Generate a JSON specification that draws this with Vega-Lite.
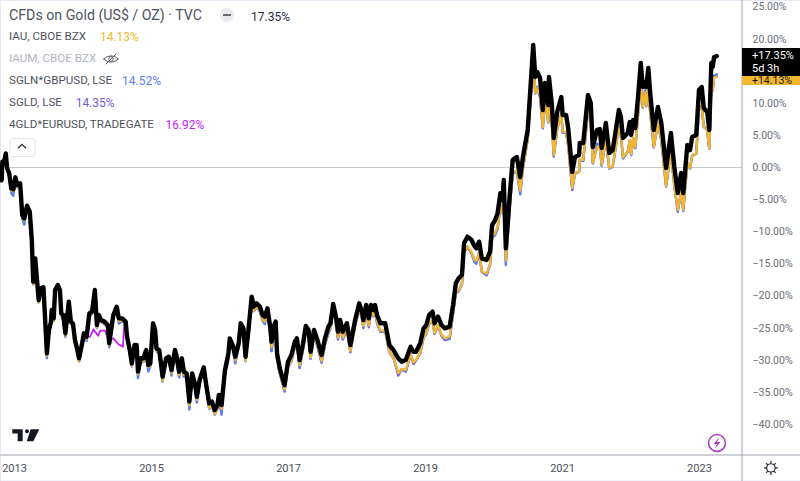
{
"$schema":"https://vega.github.io/schema/vega-lite/v6.json",
"width":742,"height":455,
"padding":{"left":0,"top":0,"right":58,"bottom":26},
"autosize":{"type":"none"},
"background":"#ffffff",
"config":{"view":{"stroke":null}},
"datasets":{
"prices":[
{"year":2012.82,"cfd":-1.95,"iau":-2.2,"sgln":-2.25,"sgld":-2.2},
{"year":2012.83,"cfd":0.91,"iau":0.7,"sgln":0.65,"sgld":0.7},
{"year":2012.85,"cfd":0.65,"iau":0.4,"sgln":0.35,"sgld":0.4},
{"year":2012.88,"cfd":2.2,"iau":2.0,"sgln":1.9,"sgld":2.0},
{"year":2012.90,"cfd":-0.13,"iau":-0.4,"sgln":-0.45,"sgld":-0.4},
{"year":2012.93,"cfd":-0.91,"iau":-1.2,"sgln":-1.3,"sgld":-1.2},
{"year":2012.96,"cfd":-3.25,"iau":-3.6,"sgln":-4.0,"sgld":-3.7},
{"year":2012.99,"cfd":-3.4,"iau":-3.7,"sgln":-4.4,"sgld":-3.8},
{"year":2013.02,"cfd":-1.53,"iau":-1.8,"sgln":-1.9,"sgld":-1.8},
{"year":2013.05,"cfd":-2.73,"iau":-3.0,"sgln":-3.1,"sgld":-3.0},
{"year":2013.09,"cfd":-2.47,"iau":-2.75,"sgln":-2.85,"sgld":-2.8},
{"year":2013.12,"cfd":-7.4,"iau":-7.7,"sgln":-8.0,"sgld":-7.8},
{"year":2013.15,"cfd":-7.92,"iau":-8.3,"sgln":-8.9,"sgld":-8.4},
{"year":2013.19,"cfd":-5.95,"iau":-6.2,"sgln":-6.3,"sgld":-6.2},
{"year":2013.23,"cfd":-6.88,"iau":-7.15,"sgln":-7.25,"sgld":-7.2},
{"year":2013.26,"cfd":-11.3,"iau":-11.6,"sgln":-11.7,"sgld":-11.6},
{"year":2013.28,"cfd":-17.8,"iau":-18.2,"sgln":-18.2,"sgld":-18.2},
{"year":2013.31,"cfd":-14.15,"iau":-14.4,"sgln":-14.5,"sgld":-14.4},
{"year":2013.34,"cfd":-18.04,"iau":-18.3,"sgln":-18.4,"sgld":-18.3},
{"year":2013.36,"cfd":-20.64,"iau":-21.0,"sgln":-21.0,"sgld":-21.0},
{"year":2013.39,"cfd":-18.82,"iau":-19.1,"sgln":-19.2,"sgld":-19.1},
{"year":2013.43,"cfd":-18.67,"iau":-18.9,"sgln":-19.0,"sgld":-18.9},
{"year":2013.45,"cfd":-22.72,"iau":-23.0,"sgln":-23.1,"sgld":-23.0},
{"year":2013.48,"cfd":-28.95,"iau":-29.3,"sgln":-29.7,"sgld":-29.4},
{"year":2013.51,"cfd":-25.31,"iau":-25.6,"sgln":-25.7,"sgld":-25.6},
{"year":2013.54,"cfd":-24.01,"iau":-24.3,"sgln":-24.4,"sgld":-24.3},
{"year":2013.55,"cfd":-22.2,"iau":-22.5,"sgln":-22.6,"sgld":-22.5},
{"year":2013.58,"cfd":-23.5,"iau":-23.9,"sgln":-23.9,"sgld":-23.9},
{"year":2013.60,"cfd":-19.08,"iau":-19.3,"sgln":-19.4,"sgld":-19.3},
{"year":2013.64,"cfd":-18.3,"iau":-18.5,"sgln":-18.6,"sgld":-18.3},
{"year":2013.67,"cfd":-19.08,"iau":-19.3,"sgln":-19.4,"sgld":-19.3},
{"year":2013.69,"cfd":-22.72,"iau":-23.0,"sgln":-23.1,"sgld":-23.0},
{"year":2013.72,"cfd":-22.98,"iau":-23.3,"sgln":-23.9,"sgld":-23.4},
{"year":2013.75,"cfd":-25.83,"iau":-26.2,"sgln":-26.4,"sgld":-26.2},
{"year":2013.80,"cfd":-20.9,"iau":-21.2,"sgln":-21.3,"sgld":-21.2},
{"year":2013.83,"cfd":-24.0,"iau":-24.3,"sgln":-24.4,"sgld":-24.3},
{"year":2013.86,"cfd":-24.27,"iau":-24.5,"sgln":-24.6,"sgld":-24.5},
{"year":2013.89,"cfd":-26.87,"iau":-27.2,"sgln":-27.2,"sgld":-27.2},
{"year":2013.92,"cfd":-28.17,"iau":-28.5,"sgln":-28.5,"sgld":-28.5},
{"year":2013.95,"cfd":-29.73,"iau":-30.2,"sgln":-30.2,"sgld":-30.2},
{"year":2013.99,"cfd":-27.65,"iau":-27.9,"sgln":-28.0,"sgld":-27.9},
{"year":2014.02,"cfd":-25.83,"iau":-26.1,"sgln":-26.2,"sgld":-26.1},
{"year":2014.06,"cfd":-26.35,"iau":-26.7,"sgln":-27.0,"sgld":-26.8},
{"year":2014.10,"cfd":-22.72,"iau":-23.0,"sgln":-23.1,"sgld":-23.0},
{"year":2014.14,"cfd":-22.46,"iau":-22.7,"sgln":-22.8,"sgld":-22.7},
{"year":2014.18,"cfd":-19.08,"iau":-19.3,"sgln":-19.4,"sgld":-19.3},
{"year":2014.21,"cfd":-24.53,"iau":-24.9,"sgln":-25.0,"sgld":-24.9},
{"year":2014.24,"cfd":-22.98,"iau":-23.3,"sgln":-23.4,"sgld":-23.3},
{"year":2014.27,"cfd":-23.75,"iau":-24.0,"sgln":-24.1,"sgld":-24.0},
{"year":2014.32,"cfd":-24.0,"iau":-24.3,"sgln":-24.4,"sgld":-24.3},
{"year":2014.37,"cfd":-24.53,"iau":-24.9,"sgln":-25.0,"sgld":-24.9},
{"year":2014.39,"cfd":-27.39,"iau":-27.7,"sgln":-28.0,"sgld":-27.8},
{"year":2014.45,"cfd":-22.98,"iau":-23.3,"sgln":-23.4,"sgld":-23.3},
{"year":2014.50,"cfd":-21.68,"iau":-21.9,"sgln":-22.0,"sgld":-21.9},
{"year":2014.53,"cfd":-23.5,"iau":-23.9,"sgln":-24.3,"sgld":-23.9},
{"year":2014.58,"cfd":-23.5,"iau":-23.8,"sgln":-23.9,"sgld":-23.8},
{"year":2014.63,"cfd":-24.0,"iau":-24.4,"sgln":-24.5,"sgld":-24.4},
{"year":2014.65,"cfd":-26.35,"iau":-26.7,"sgln":-26.8,"sgld":-26.7},
{"year":2014.69,"cfd":-28.43,"iau":-28.8,"sgln":-28.9,"sgld":-28.8},
{"year":2014.72,"cfd":-30.5,"iau":-30.9,"sgln":-31.0,"sgld":-30.9},
{"year":2014.76,"cfd":-27.65,"iau":-28.0,"sgln":-28.1,"sgld":-28.0},
{"year":2014.79,"cfd":-27.65,"iau":-28.0,"sgln":-28.1,"sgld":-28.0},
{"year":2014.81,"cfd":-31.8,"iau":-32.2,"sgln":-32.8,"sgld":-32.3},
{"year":2014.85,"cfd":-29.72,"iau":-30.1,"sgln":-30.2,"sgld":-30.1},
{"year":2014.89,"cfd":-29.72,"iau":-30.2,"sgln":-30.3,"sgld":-30.2},
{"year":2014.93,"cfd":-28.43,"iau":-28.7,"sgln":-28.8,"sgld":-28.7},
{"year":2014.96,"cfd":-30.76,"iau":-31.1,"sgln":-31.8,"sgld":-31.3},
{"year":2014.99,"cfd":-30.5,"iau":-30.9,"sgln":-31.0,"sgld":-30.9},
{"year":2015.03,"cfd":-24.27,"iau":-24.6,"sgln":-24.7,"sgld":-24.6},
{"year":2015.06,"cfd":-25.31,"iau":-25.6,"sgln":-25.7,"sgld":-25.6},
{"year":2015.08,"cfd":-28.17,"iau":-28.5,"sgln":-28.6,"sgld":-28.5},
{"year":2015.12,"cfd":-28.43,"iau":-28.9,"sgln":-29.0,"sgld":-28.9},
{"year":2015.17,"cfd":-32.58,"iau":-33.2,"sgln":-33.3,"sgld":-33.3},
{"year":2015.22,"cfd":-29.72,"iau":-30.1,"sgln":-30.2,"sgld":-30.1},
{"year":2015.26,"cfd":-29.47,"iau":-29.9,"sgln":-30.0,"sgld":-29.9},
{"year":2015.30,"cfd":-31.54,"iau":-32.0,"sgln":-32.4,"sgld":-32.1},
{"year":2015.35,"cfd":-28.43,"iau":-28.8,"sgln":-28.9,"sgld":-28.8},
{"year":2015.37,"cfd":-29.2,"iau":-29.6,"sgln":-29.7,"sgld":-29.6},
{"year":2015.41,"cfd":-31.8,"iau":-32.3,"sgln":-32.7,"sgld":-32.5},
{"year":2015.45,"cfd":-29.72,"iau":-30.1,"sgln":-30.2,"sgld":-30.1},
{"year":2015.48,"cfd":-31.8,"iau":-32.3,"sgln":-32.5,"sgld":-32.6},
{"year":2015.52,"cfd":-32.06,"iau":-32.5,"sgln":-32.6,"sgld":-32.5},
{"year":2015.56,"cfd":-36.47,"iau":-37.0,"sgln":-37.7,"sgld":-37.1},
{"year":2015.60,"cfd":-32.06,"iau":-32.5,"sgln":-32.6,"sgld":-32.5},
{"year":2015.64,"cfd":-33.62,"iau":-34.0,"sgln":-34.1,"sgld":-34.0},
{"year":2015.67,"cfd":-35.7,"iau":-36.2,"sgln":-36.6,"sgld":-36.3},
{"year":2015.71,"cfd":-33.1,"iau":-33.5,"sgln":-33.6,"sgld":-33.5},
{"year":2015.77,"cfd":-31.13,"iau":-31.6,"sgln":-31.6,"sgld":-31.6},
{"year":2015.81,"cfd":-34.14,"iau":-34.6,"sgln":-34.7,"sgld":-34.6},
{"year":2015.85,"cfd":-36.73,"iau":-37.5,"sgln":-37.6,"sgld":-37.5},
{"year":2015.89,"cfd":-36.47,"iau":-37.0,"sgln":-37.1,"sgld":-37.0},
{"year":2015.93,"cfd":-37.77,"iau":-38.4,"sgln":-38.5,"sgld":-38.4},
{"year":2015.97,"cfd":-36.99,"iau":-37.5,"sgln":-37.6,"sgld":-37.5},
{"year":2015.99,"cfd":-35.44,"iau":-35.9,"sgln":-36.0,"sgld":-35.9},
{"year":2016.03,"cfd":-36.99,"iau":-37.6,"sgln":-38.5,"sgld":-37.7},
{"year":2016.08,"cfd":-31.54,"iau":-32.1,"sgln":-32.2,"sgld":-32.1},
{"year":2016.13,"cfd":-28.95,"iau":-29.5,"sgln":-30.0,"sgld":-29.6},
{"year":2016.15,"cfd":-26.61,"iau":-27.1,"sgln":-27.2,"sgld":-27.1},
{"year":2016.20,"cfd":-27.91,"iau":-28.4,"sgln":-28.5,"sgld":-28.4},
{"year":2016.23,"cfd":-29.47,"iau":-30.0,"sgln":-30.5,"sgld":-30.4},
{"year":2016.28,"cfd":-27.39,"iau":-27.9,"sgln":-28.0,"sgld":-27.9},
{"year":2016.31,"cfd":-24.27,"iau":-24.8,"sgln":-24.9,"sgld":-24.8},
{"year":2016.35,"cfd":-25.05,"iau":-25.5,"sgln":-25.6,"sgld":-25.5},
{"year":2016.38,"cfd":-29.47,"iau":-30.1,"sgln":-30.2,"sgld":-30.1},
{"year":2016.42,"cfd":-25.57,"iau":-26.1,"sgln":-26.2,"sgld":-26.1},
{"year":2016.47,"cfd":-20.12,"iau":-20.6,"sgln":-20.7,"sgld":-20.6},
{"year":2016.50,"cfd":-21.68,"iau":-22.3,"sgln":-22.4,"sgld":-22.3},
{"year":2016.54,"cfd":-21.16,"iau":-21.7,"sgln":-21.8,"sgld":-21.7},
{"year":2016.59,"cfd":-21.68,"iau":-22.4,"sgln":-22.5,"sgld":-22.4},
{"year":2016.63,"cfd":-22.98,"iau":-23.7,"sgln":-23.9,"sgld":-23.8},
{"year":2016.66,"cfd":-23.23,"iau":-24.0,"sgln":-24.4,"sgld":-24.1},
{"year":2016.70,"cfd":-21.94,"iau":-22.7,"sgln":-22.8,"sgld":-22.7},
{"year":2016.74,"cfd":-24.79,"iau":-25.5,"sgln":-25.6,"sgld":-25.5},
{"year":2016.76,"cfd":-27.13,"iau":-28.0,"sgln":-28.6,"sgld":-28.6},
{"year":2016.79,"cfd":-24.79,"iau":-25.5,"sgln":-25.6,"sgld":-25.5},
{"year":2016.82,"cfd":-24.01,"iau":-24.7,"sgln":-24.8,"sgld":-24.7},
{"year":2016.84,"cfd":-28.95,"iau":-29.7,"sgln":-29.8,"sgld":-29.7},
{"year":2016.88,"cfd":-31.28,"iau":-32.0,"sgln":-32.1,"sgld":-32.0},
{"year":2016.95,"cfd":-33.88,"iau":-34.6,"sgln":-34.8,"sgld":-34.9},
{"year":2017.00,"cfd":-30.24,"iau":-31.0,"sgln":-31.1,"sgld":-31.0},
{"year":2017.05,"cfd":-29.2,"iau":-30.0,"sgln":-30.2,"sgld":-30.1},
{"year":2017.10,"cfd":-27.13,"iau":-27.9,"sgln":-28.0,"sgld":-27.9},
{"year":2017.13,"cfd":-26.61,"iau":-27.3,"sgln":-27.4,"sgld":-27.3},
{"year":2017.17,"cfd":-29.98,"iau":-30.8,"sgln":-31.2,"sgld":-31.2},
{"year":2017.22,"cfd":-27.39,"iau":-28.2,"sgln":-28.3,"sgld":-28.2},
{"year":2017.26,"cfd":-24.69,"iau":-25.4,"sgln":-25.5,"sgld":-25.4},
{"year":2017.30,"cfd":-25.31,"iau":-26.1,"sgln":-26.2,"sgld":-26.1},
{"year":2017.33,"cfd":-28.69,"iau":-29.6,"sgln":-29.7,"sgld":-29.8},
{"year":2017.38,"cfd":-25.31,"iau":-26.1,"sgln":-26.2,"sgld":-26.1},
{"year":2017.43,"cfd":-26.87,"iau":-27.7,"sgln":-27.9,"sgld":-27.8},
{"year":2017.49,"cfd":-29.2,"iau":-30.1,"sgln":-30.3,"sgld":-30.4},
{"year":2017.54,"cfd":-26.61,"iau":-27.4,"sgln":-27.6,"sgld":-27.5},
{"year":2017.59,"cfd":-24.79,"iau":-25.5,"sgln":-25.9,"sgld":-25.6},
{"year":2017.62,"cfd":-24.27,"iau":-25.0,"sgln":-25.1,"sgld":-25.0},
{"year":2017.66,"cfd":-21.26,"iau":-22.0,"sgln":-22.1,"sgld":-22.0},
{"year":2017.70,"cfd":-23.23,"iau":-24.1,"sgln":-24.2,"sgld":-24.1},
{"year":2017.73,"cfd":-25.57,"iau":-26.5,"sgln":-26.6,"sgld":-26.8},
{"year":2017.76,"cfd":-23.75,"iau":-24.6,"sgln":-24.7,"sgld":-24.6},
{"year":2017.80,"cfd":-25.57,"iau":-26.5,"sgln":-26.7,"sgld":-26.8},
{"year":2017.86,"cfd":-24.27,"iau":-25.1,"sgln":-25.2,"sgld":-25.1},
{"year":2017.91,"cfd":-27.65,"iau":-28.6,"sgln":-28.7,"sgld":-28.8},
{"year":2017.98,"cfd":-23.75,"iau":-24.6,"sgln":-24.7,"sgld":-24.6},
{"year":2018.04,"cfd":-21.16,"iau":-22.0,"sgln":-22.1,"sgld":-22.0},
{"year":2018.08,"cfd":-22.45,"iau":-23.4,"sgln":-23.5,"sgld":-23.5},
{"year":2018.10,"cfd":-23.75,"iau":-24.7,"sgln":-24.8,"sgld":-25.0},
{"year":2018.14,"cfd":-21.42,"iau":-22.4,"sgln":-22.5,"sgld":-22.4},
{"year":2018.18,"cfd":-23.49,"iau":-24.6,"sgln":-24.7,"sgld":-24.9},
{"year":2018.21,"cfd":-21.42,"iau":-22.3,"sgln":-22.4,"sgld":-22.3},
{"year":2018.25,"cfd":-22.2,"iau":-23.1,"sgln":-23.2,"sgld":-23.1},
{"year":2018.27,"cfd":-21.42,"iau":-22.3,"sgln":-22.4,"sgld":-22.3},
{"year":2018.30,"cfd":-22.98,"iau":-24.0,"sgln":-24.3,"sgld":-24.1},
{"year":2018.35,"cfd":-24.27,"iau":-25.4,"sgln":-25.6,"sgld":-25.6},
{"year":2018.42,"cfd":-24.27,"iau":-25.4,"sgln":-25.5,"sgld":-25.4},
{"year":2018.48,"cfd":-27.65,"iau":-28.7,"sgln":-28.8,"sgld":-28.7},
{"year":2018.54,"cfd":-28.43,"iau":-29.6,"sgln":-29.7,"sgld":-29.6},
{"year":2018.61,"cfd":-29.72,"iau":-32.0,"sgln":-32.1,"sgld":-32.4},
{"year":2018.66,"cfd":-30.24,"iau":-31.4,"sgln":-31.5,"sgld":-31.4},
{"year":2018.72,"cfd":-29.98,"iau":-31.5,"sgln":-31.8,"sgld":-31.7},
{"year":2018.79,"cfd":-27.91,"iau":-29.1,"sgln":-29.2,"sgld":-29.1},
{"year":2018.83,"cfd":-28.69,"iau":-30.3,"sgln":-30.4,"sgld":-30.6},
{"year":2018.87,"cfd":-28.69,"iau":-30.0,"sgln":-30.1,"sgld":-30.0},
{"year":2018.93,"cfd":-27.39,"iau":-28.8,"sgln":-29.0,"sgld":-28.9},
{"year":2018.98,"cfd":-25.05,"iau":-26.4,"sgln":-26.5,"sgld":-26.4},
{"year":2019.02,"cfd":-24.53,"iau":-25.8,"sgln":-25.9,"sgld":-25.8},
{"year":2019.06,"cfd":-22.98,"iau":-24.3,"sgln":-24.4,"sgld":-24.3},
{"year":2019.11,"cfd":-22.46,"iau":-23.9,"sgln":-24.0,"sgld":-23.9},
{"year":2019.14,"cfd":-24.27,"iau":-25.8,"sgln":-25.9,"sgld":-25.9},
{"year":2019.19,"cfd":-23.23,"iau":-24.6,"sgln":-24.7,"sgld":-24.6},
{"year":2019.24,"cfd":-24.53,"iau":-26.0,"sgln":-26.1,"sgld":-26.2},
{"year":2019.29,"cfd":-25.05,"iau":-26.6,"sgln":-26.8,"sgld":-26.9},
{"year":2019.36,"cfd":-24.79,"iau":-26.3,"sgln":-26.6,"sgld":-26.7},
{"year":2019.41,"cfd":-21.42,"iau":-22.7,"sgln":-22.8,"sgld":-22.7},
{"year":2019.45,"cfd":-18.04,"iau":-19.5,"sgln":-19.6,"sgld":-19.5},
{"year":2019.49,"cfd":-17.26,"iau":-19.1,"sgln":-19.3,"sgld":-19.2},
{"year":2019.54,"cfd":-16.74,"iau":-18.1,"sgln":-18.2,"sgld":-18.1},
{"year":2019.57,"cfd":-11.81,"iau":-13.2,"sgln":-13.3,"sgld":-13.2},
{"year":2019.62,"cfd":-10.77,"iau":-12.3,"sgln":-12.4,"sgld":-12.3},
{"year":2019.68,"cfd":-11.29,"iau":-13.2,"sgln":-13.4,"sgld":-13.3},
{"year":2019.72,"cfd":-12.2,"iau":-14.4,"sgln":-14.7,"sgld":-14.5},
{"year":2019.75,"cfd":-12.59,"iau":-14.5,"sgln":-15.0,"sgld":-14.6},
{"year":2019.79,"cfd":-11.55,"iau":-13.3,"sgln":-13.4,"sgld":-13.3},
{"year":2019.83,"cfd":-14.15,"iau":-16.2,"sgln":-16.3,"sgld":-16.2},
{"year":2019.90,"cfd":-14.41,"iau":-16.5,"sgln":-16.7,"sgld":-16.8},
{"year":2019.95,"cfd":-13.11,"iau":-15.1,"sgln":-15.2,"sgld":-15.1},
{"year":2019.98,"cfd":-8.96,"iau":-10.7,"sgln":-10.9,"sgld":-10.8},
{"year":2020.02,"cfd":-8.3,"iau":-10.3,"sgln":-10.6,"sgld":-10.4},
{"year":2020.06,"cfd":-7.14,"iau":-9.2,"sgln":-9.6,"sgld":-9.4},
{"year":2020.10,"cfd":-4.02,"iau":-6.2,"sgln":-6.3,"sgld":-6.2},
{"year":2020.13,"cfd":-5.06,"iau":-7.0,"sgln":-7.1,"sgld":-7.0},
{"year":2020.15,"cfd":-1.95,"iau":-3.9,"sgln":-4.0,"sgld":-3.9},
{"year":2020.18,"cfd":-12.59,"iau":-14.5,"sgln":-15.2,"sgld":-14.6},
{"year":2020.24,"cfd":-3.97,"iau":-5.8,"sgln":-5.9,"sgld":-5.8},
{"year":2020.28,"cfd":1.17,"iau":-0.7,"sgln":-1.0,"sgld":-0.9},
{"year":2020.34,"cfd":1.64,"iau":-0.5,"sgln":-0.6,"sgld":-0.5},
{"year":2020.39,"cfd":-1.48,"iau":-3.6,"sgln":-4.2,"sgld":-3.7},
{"year":2020.43,"cfd":1.64,"iau":0.0,"sgln":-0.1,"sgld":0.0},
{"year":2020.46,"cfd":3.5,"iau":1.9,"sgln":1.8,"sgld":1.9},
{"year":2020.50,"cfd":5.84,"iau":4.5,"sgln":4.4,"sgld":4.5},
{"year":2020.55,"cfd":14.1,"iau":12.1,"sgln":12.0,"sgld":12.1},
{"year":2020.58,"cfd":19.08,"iau":16.7,"sgln":16.6,"sgld":16.7},
{"year":2020.61,"cfd":14.1,"iau":11.6,"sgln":11.5,"sgld":11.6},
{"year":2020.64,"cfd":14.88,"iau":12.4,"sgln":12.6,"sgld":12.4},
{"year":2020.68,"cfd":13.94,"iau":11.3,"sgln":11.1,"sgld":10.9},
{"year":2020.72,"cfd":8.96,"iau":6.3,"sgln":6.1,"sgld":6.2},
{"year":2020.75,"cfd":13.16,"iau":10.5,"sgln":10.4,"sgld":10.5},
{"year":2020.80,"cfd":9.74,"iau":7.1,"sgln":7.0,"sgld":7.1},
{"year":2020.81,"cfd":14.1,"iau":11.4,"sgln":11.3,"sgld":11.4},
{"year":2020.85,"cfd":10.05,"iau":7.4,"sgln":7.2,"sgld":7.3},
{"year":2020.88,"cfd":4.6,"iau":1.95,"sgln":1.7,"sgld":1.8},
{"year":2020.93,"cfd":8.64,"iau":6.0,"sgln":6.2,"sgld":6.0},
{"year":2020.99,"cfd":10.98,"iau":8.4,"sgln":8.3,"sgld":8.4},
{"year":2021.01,"cfd":8.18,"iau":5.6,"sgln":5.4,"sgld":5.5},
{"year":2021.06,"cfd":8.18,"iau":5.5,"sgln":5.4,"sgld":5.5},
{"year":2021.09,"cfd":6.15,"iau":3.6,"sgln":3.5,"sgld":3.5},
{"year":2021.15,"cfd":-0.7,"iau":-3.2,"sgln":-3.3,"sgld":-3.5},
{"year":2021.19,"cfd":1.64,"iau":-0.9,"sgln":-1.0,"sgld":-0.9},
{"year":2021.25,"cfd":1.95,"iau":-0.6,"sgln":-0.7,"sgld":-0.6},
{"year":2021.26,"cfd":3.82,"iau":1.2,"sgln":1.1,"sgld":1.2},
{"year":2021.31,"cfd":3.82,"iau":1.2,"sgln":1.0,"sgld":1.1},
{"year":2021.38,"cfd":11.29,"iau":9.1,"sgln":9.0,"sgld":9.1},
{"year":2021.42,"cfd":10.05,"iau":7.6,"sgln":7.5,"sgld":7.6},
{"year":2021.45,"cfd":3.19,"iau":0.7,"sgln":0.6,"sgld":0.7},
{"year":2021.51,"cfd":5.84,"iau":3.1,"sgln":3.7,"sgld":3.2},
{"year":2021.55,"cfd":6.0,"iau":3.4,"sgln":3.6,"sgld":3.4},
{"year":2021.58,"cfd":3.04,"iau":0.4,"sgln":0.3,"sgld":0.3},
{"year":2021.64,"cfd":6.93,"iau":4.4,"sgln":4.3,"sgld":4.4},
{"year":2021.69,"cfd":2.26,"iau":-0.1,"sgln":-0.2,"sgld":-0.1},
{"year":2021.74,"cfd":2.73,"iau":0.2,"sgln":0.1,"sgld":0.2},
{"year":2021.77,"cfd":4.75,"iau":2.2,"sgln":2.1,"sgld":2.2},
{"year":2021.83,"cfd":8.96,"iau":6.4,"sgln":6.3,"sgld":6.4},
{"year":2021.86,"cfd":7.87,"iau":5.2,"sgln":5.1,"sgld":5.2},
{"year":2021.89,"cfd":4.6,"iau":1.6,"sgln":1.4,"sgld":1.5},
{"year":2021.96,"cfd":5.37,"iau":2.5,"sgln":2.4,"sgld":2.5},
{"year":2021.99,"cfd":7.09,"iau":4.3,"sgln":4.2,"sgld":4.3},
{"year":2022.01,"cfd":5.06,"iau":2.1,"sgln":1.9,"sgld":2.0},
{"year":2022.04,"cfd":7.4,"iau":4.6,"sgln":4.5,"sgld":4.6},
{"year":2022.07,"cfd":6.15,"iau":3.2,"sgln":3.0,"sgld":3.1},
{"year":2022.11,"cfd":10.98,"iau":8.2,"sgln":8.3,"sgld":8.2},
{"year":2022.15,"cfd":16.28,"iau":13.2,"sgln":13.1,"sgld":13.2},
{"year":2022.18,"cfd":12.54,"iau":9.4,"sgln":9.3,"sgld":9.4},
{"year":2022.21,"cfd":13.16,"iau":11.7,"sgln":12.0,"sgld":11.7},
{"year":2022.23,"cfd":12.5,"iau":9.6,"sgln":9.5,"sgld":9.6},
{"year":2022.26,"cfd":15.5,"iau":12.4,"sgln":12.3,"sgld":12.4},
{"year":2022.29,"cfd":11.29,"iau":8.4,"sgln":8.3,"sgld":8.4},
{"year":2022.34,"cfd":5.84,"iau":3.2,"sgln":3.1,"sgld":3.2},
{"year":2022.40,"cfd":9.42,"iau":6.9,"sgln":6.8,"sgld":6.9},
{"year":2022.45,"cfd":6.93,"iau":4.3,"sgln":4.2,"sgld":4.3},
{"year":2022.52,"cfd":-0.08,"iau":-2.9,"sgln":-3.0,"sgld":-2.9},
{"year":2022.59,"cfd":5.37,"iau":2.6,"sgln":2.5,"sgld":2.6},
{"year":2022.64,"cfd":0.08,"iau":-2.8,"sgln":-2.9,"sgld":-2.8},
{"year":2022.69,"cfd":-3.97,"iau":-6.6,"sgln":-6.9,"sgld":-6.7},
{"year":2022.74,"cfd":-0.86,"iau":-3.8,"sgln":-3.7,"sgld":-3.8},
{"year":2022.77,"cfd":-3.97,"iau":-6.6,"sgln":-6.8,"sgld":-6.7},
{"year":2022.83,"cfd":3.5,"iau":0.7,"sgln":0.6,"sgld":0.7},
{"year":2022.87,"cfd":2.73,"iau":-0.1,"sgln":-0.2,"sgld":-0.1},
{"year":2022.90,"cfd":4.75,"iau":1.9,"sgln":1.8,"sgld":1.9},
{"year":2022.96,"cfd":5.06,"iau":2.2,"sgln":2.1,"sgld":2.2},
{"year":2023.00,"cfd":12.07,"iau":9.2,"sgln":9.1,"sgld":9.2},
{"year":2023.04,"cfd":12.54,"iau":9.6,"sgln":9.5,"sgld":9.6},
{"year":2023.07,"cfd":9.27,"iau":6.4,"sgln":6.3,"sgld":6.4},
{"year":2023.12,"cfd":8.64,"iau":5.8,"sgln":5.9,"sgld":5.8},
{"year":2023.15,"cfd":5.84,"iau":3.0,"sgln":2.9,"sgld":3.0},
{"year":2023.18,"cfd":16.28,"iau":12.6,"sgln":12.7,"sgld":12.6},
{"year":2023.20,"cfd":15.65,"iau":12.0,"sgln":12.1,"sgld":12.0},
{"year":2023.22,"cfd":17.2,"iau":14.0,"sgln":14.3,"sgld":14.1},
{"year":2023.26,"cfd":17.35,"iau":14.13,"sgln":14.52,"sgld":14.35}
],
"tradegate":[
{"year":2014.06,"pct":-26.35},
{"year":2014.11,"pct":-26.35},
{"year":2014.16,"pct":-25.21},
{"year":2014.20,"pct":-25.83},
{"year":2014.23,"pct":-26.2},
{"year":2014.26,"pct":-25.41},
{"year":2014.33,"pct":-25.41},
{"year":2014.38,"pct":-26.87},
{"year":2014.45,"pct":-26.61},
{"year":2014.52,"pct":-27.49},
{"year":2014.59,"pct":-27.91},
{"year":2014.61,"pct":-24.53},
{"year":2014.65,"pct":-26.35}
],
"legendNames":[
{"label":"IAU, CBOE BZX","year":2012.927,"pct":20.33},
{"label":"SGLN*GBPUSD, LSE","year":2012.927,"pct":13.47},
{"label":"SGLD, LSE","year":2012.927,"pct":10.05},
{"label":"4GLD*EURUSD, TRADEGATE","year":2012.927,"pct":6.62}
],
"legendValues":[
{"label":"14.13%","series":"iau","year":2014.255,"pct":20.33},
{"label":"14.52%","series":"sgln","year":2014.577,"pct":13.47},
{"label":"14.35%","series":"sgld","year":2013.90,"pct":10.05},
{"label":"16.92%","series":"gld4","year":2015.21,"pct":6.62}
]
},
"encoding":{
"x":{"field":"year","type":"quantitative","scale":{"domain":[2012.7956,2023.628],"nice":false,"zero":false},
"axis":{"title":null,"values":[2013,2015,2017,2019,2021,2023],"format":"d","grid":false,"domain":false,"ticks":false,"labelFont":"Roboto","labelFontSize":11,"labelColor":"#4a4e59","labelPadding":7,"labelFlush":false}},
"y":{"field":"pct","type":"quantitative","scale":{"domain":[-44.78,26.09],"nice":false,"zero":false},
"axis":{"title":null,"orient":"right","values":[-40,-35,-30,-25,-20,-15,-10,-5,0,5,10,15,20,25],"format":".2f","labelExpr":"datum.label+'%'","grid":false,"domain":false,"ticks":false,"labelFont":"Roboto","labelFontSize":10.5,"labelColor":"#6a6d78","labelPadding":10,"labelFlush":false}}
},
"layer":[
{"data":{"values":[{"year":2012.7956,"year2":2024.475,"pct":26.09},{"year":2012.7956,"year2":2024.475,"pct":-48.9}]},"mark":{"type":"rule","color":"#e6e7f5","strokeWidth":2},"encoding":{"x2":{"field":"year2"}}},
{"data":{"values":[{"year":2012.7956,"pct":26.09,"pct2":-48.9}]},"mark":{"type":"rule","color":"#e6e7f5","strokeWidth":2},"encoding":{"y2":{"field":"pct2"}}},
{"data":{"values":[{"year":2012.7956,"year2":2023.628,"pct":0}]},"mark":{"type":"rule","color":"#c9cbd1","strokeWidth":1},"encoding":{"x2":{"field":"year2"}}},
{"data":{"values":[{"year":2012.7956,"year2":2024.475,"pct":-44.78}]},"mark":{"type":"rule","color":"#bfc2ca","strokeWidth":1.5},"encoding":{"x2":{"field":"year2"}}},
{"data":{"values":[{"year":2023.628,"pct":26.09,"pct2":-48.9}]},"mark":{"type":"rule","color":"#a0a3ab","strokeWidth":1},"encoding":{"y2":{"field":"pct2"}}},
{"data":{"name":"tradegate"},"mark":{"type":"line","color":"#c61cff","strokeWidth":1.8,"strokeJoin":"round"}},
{"data":{"name":"prices"},"transform":[{"fold":["sgld","sgln","iau"],"as":["series","pct"]}],
"mark":{"type":"line","strokeJoin":"round","strokeCap":"round","strokeWidth":2.4},
"encoding":{"color":{"field":"series","type":"nominal","legend":null,"scale":{"domain":["sgld","sgln","iau","gld4"],"range":["#7e57e0","#5b7cf7","#f2b72e","#c61cff"]}}}},
{"data":{"name":"prices"},"transform":[{"fold":["cfd"],"as":["line","pct"]}],
"mark":{"type":"line","strokeJoin":"round","strokeCap":"round","strokeWidth":4.4,"color":"#000000"}},
{"data":{"values":[{"label":"CFDs on Gold (US$ / OZ) · TVC","year":2012.927,"pct":23.6}]},"mark":{"type":"text","align":"left","baseline":"middle","font":"Roboto","fontSize":14.2,"color":"#50535e"},"encoding":{"text":{"field":"label"}}},
{"data":{"values":[{"label":"17.35%","year":2016.46,"pct":23.44}]},"mark":{"type":"text","align":"left","baseline":"middle","font":"Roboto","fontSize":12,"color":"#2a2e39"},"encoding":{"text":{"field":"label"}}},
{"data":{"name":"legendNames"},"mark":{"type":"text","align":"left","baseline":"middle","font":"Roboto","fontSize":11.6,"color":"#50535e"},"encoding":{"text":{"field":"label"}}},
{"data":{"values":[{"label":"IAUM, CBOE BZX","year":2012.927,"pct":16.9}]},"mark":{"type":"text","align":"left","baseline":"middle","font":"Roboto","fontSize":11.6,"color":"#b2b5be"},"encoding":{"text":{"field":"label"}}},
{"data":{"name":"legendValues"},"mark":{"type":"text","align":"left","baseline":"middle","font":"Roboto","fontSize":12},"encoding":{"text":{"field":"label"},"color":{"field":"series","type":"nominal","legend":null,"scale":{"domain":["sgld","sgln","iau","gld4"],"range":["#7e57e0","#5b7cf7","#f2b72e","#c61cff"]}}}},
{"data":{"values":[{"year":2016.11,"pct":23.75}]},"mark":{"type":"point","shape":"circle","size":201,"filled":true,"color":"#e9eaef","opacity":1}},
{"data":{"values":[{"year":2016.11,"pct":23.75}]},"mark":{"type":"point","shape":"M-1,0L1,0","size":64,"filled":false,"stroke":"#6a6d78","strokeWidth":2,"opacity":1}},
{"data":{"values":[{"year":2014.416,"pct":16.9}]},"mark":{"type":"point","shape":"M-1,0Q0,-.85 1,0Q0,.85 -1,0ZM.3,0A.3,.3 0 1 1 -.3,0A.3,.3 0 1 1 .3,0ZM-.7,.7L.7,-.7","size":225,"filled":false,"stroke":"#50535e","strokeWidth":1,"opacity":1}},
{"data":{"values":[{"year":2012.94,"year2":2013.306,"pct":4.5,"pct2":1.7}]},"mark":{"type":"rect","fill":"#ffffff","stroke":"#e0e3eb","strokeWidth":1,"cornerRadius":3},"encoding":{"x2":{"field":"year2"},"y2":{"field":"pct2"}}},
{"data":{"values":[{"year":2013.116,"pct":3.3}]},"mark":{"type":"point","shape":"M-1,.5L0,-.5L1,.5","size":64,"filled":false,"stroke":"#2a2e39","strokeWidth":1.3,"opacity":1}},
{"data":{"values":[{"year":2013.172,"pct":-41.7}]},"mark":{"type":"point","shape":"M-1,-.44L-.23,-.44L-.23,.44L-.6,.44L-.6,-.13L-1,-.13ZM.36,-.44L1,-.44L.56,.44L.07,.44ZM.24,-.3A.15,.15 0 1 1 -.06,-.3A.15,.15 0 1 1 .24,-.3Z","size":729,"filled":true,"color":"#131722","opacity":1}},
{"data":{"values":[{"year":2023.263,"pct":-42.9}]},"mark":{"type":"point","shape":"circle","size":283,"filled":false,"stroke":"#a63fc4","strokeWidth":1.6,"opacity":1}},
{"data":{"values":[{"year":2023.263,"pct":-42.9}]},"mark":{"type":"point","shape":"M.25,-.6L-.35,.1L0,.1L-.25,.6L.35,-.1L0,-.1Z","size":400,"filled":true,"color":"#a63fc4","opacity":1}},
{"data":{"values":[{"year":2024.05,"pct":-46.8}]},"mark":{"type":"point","shape":"M.6,0A.6,.6 0 1 1 -.6,0A.6,.6 0 1 1 .6,0ZM0,-.6L0,-1M0,.6L0,1M.6,0L1,0M-.6,0L-1,0M.42,.42L.7,.7M-.42,.42L-.7,.7M.42,-.42L.7,-.7M-.42,-.42L-.7,-.7","size":196,"filled":false,"stroke":"#2a2e39","strokeWidth":1.2,"opacity":1}},
{"data":{"values":[{"year":2023.628,"year2":2024.475,"pct":14.25,"pct2":12.85}]},"mark":{"type":"rect","fill":"#f2b72e"},"encoding":{"x2":{"field":"year2"},"y2":{"field":"pct2"}}},
{"data":{"values":[{"label":"+14.13%","year":2023.774,"pct":13.4}]},"mark":{"type":"text","align":"left","baseline":"middle","font":"Roboto","fontSize":10.5,"color":"#131722"},"encoding":{"text":{"field":"label"}}},
{"data":{"values":[{"year":2023.628,"year2":2024.475,"pct":18.61,"pct2":14.25}]},"mark":{"type":"rect","fill":"#000000"},"encoding":{"x2":{"field":"year2"},"y2":{"field":"pct2"}}},
{"data":{"values":[{"label":"+17.35%","year":2023.774,"pct":17.3},{"label":"5d 3h","year":2023.774,"pct":15.35}]},"mark":{"type":"text","align":"left","baseline":"middle","font":"Roboto","fontSize":11,"color":"#ffffff"},"encoding":{"text":{"field":"label"}}}
]
}
